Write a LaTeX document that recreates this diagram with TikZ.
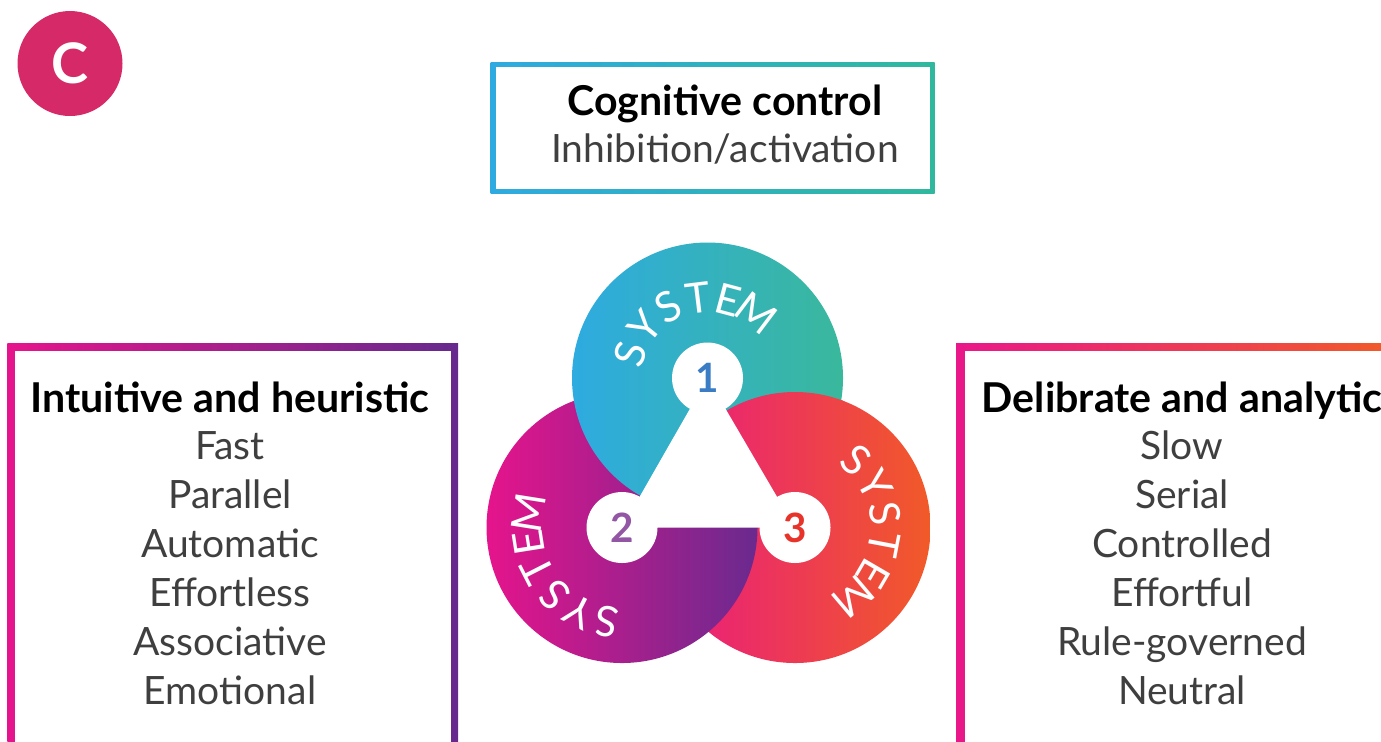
\documentclass[tikz,border=0pt]{standalone}
\usepackage{fontspec}
\setmainfont{Lato}
\usetikzlibrary{positioning}

\definecolor{badge}{HTML}{D62A68}
\definecolor{ctlblue}{HTML}{2FAAE0}
\definecolor{ctlteal}{HTML}{30B89E}
\definecolor{intmagenta}{HTML}{E6148C}
\definecolor{intpurple}{HTML}{66298D}
\definecolor{delmagenta}{HTML}{E9178A}
\definecolor{delorange}{HTML}{F15A29}
\definecolor{sysblue}{HTML}{2EABE0}
\definecolor{systeal}{HTML}{3AB89C}
\definecolor{sysmagenta}{HTML}{E5148C}
\definecolor{syspurple}{HTML}{6A2A8E}
\definecolor{syspink}{HTML}{E91A80}
\definecolor{sysorange}{HTML}{F15A28}
\definecolor{numblue}{HTML}{3A7DC4}
\definecolor{numpurple}{HTML}{9256A5}
\definecolor{numred}{HTML}{E8332B}
\definecolor{itemgray}{HTML}{3F3F3F}

\begin{document}
\begin{tikzpicture}
\tikzstyle{head} = [font=\fontsize{11.7}{13}\selectfont\bfseries, text=black, text height=0.29cm, text depth=0.08cm, inner sep=0pt]
\tikzstyle{item} = [font=\fontsize{11.1}{13}\selectfont, text=itemgray, text height=0.29cm, text depth=0.08cm, inner sep=0pt, node distance=0.49cm]
\tikzstyle{syslabel} = [font=\fontsize{12}{12}\selectfont, text=white, inner sep=0pt]
\tikzstyle{number} = [circle, fill=white, minimum size=0.71cm, inner sep=0pt, font=\fontsize{11.5}{12}\selectfont\bfseries]

\useasboundingbox (0,0) rectangle (13.81,-7.41);
\clip (0,0) rectangle (13.81,-7.41);

%badge
\fill [badge] (0.70,-0.635) circle (0.525);
\node (badgec) [font=\fontsize{15.9}{16}\selectfont\bfseries, text=white] at (0.70,-0.635) {C};

%frames
\shade [left color=ctlblue, right color=ctlteal] (4.905,-0.62) rectangle (9.345,-1.935);
\fill [white] (4.955,-0.67) rectangle (9.295,-1.885);
\shade [left color=intmagenta, right color=intpurple] (0.075,-3.43) rectangle (4.58,-7.6);
\fill [white] (0.15,-3.505) rectangle (4.505,-7.6);
\shade [left color=delmagenta, right color=delorange] (9.56,-3.43) rectangle (13.9,-7.6);
\fill [white] (9.645,-3.505) rectangle (13.9,-7.6);

%control
\node (ctl) [head] at (7.25,-1.045) {Cognitive control};
\node (inhib) [item, node distance=0.47cm, below of=ctl] {Inhibition/activation};

%left list
\node (intu) [head] at (2.30,-4.015) {Intuitive and heuristic};
\node (fast) [item, node distance=0.47cm, below of=intu] {Fast};
\node (parallel) [item, below of=fast] {Parallel};
\node (auto) [item, below of=parallel] {Automatic};
\node (effless) [item, below of=auto] {Effortless};
\node (assoc) [item, below of=effless] {Associative};
\node (emo) [item, below of=assoc] {Emotional};

%right list
\node (deli) [head] at (11.82,-4.015) {Delibrate and analytic};
\node (slow) [item, node distance=0.47cm, below of=deli] {Slow};
\node (serial) [item, below of=slow] {Serial};
\node (contr) [item, below of=serial] {Controlled};
\node (efful) [item, below of=contr] {Effortful};
\node (rule) [item, below of=efful] {Rule-governed};
\node (neutral) [item, below of=rule] {Neutral};

%discs
\coordinate (s1) at (7.075,-3.78);
\coordinate (s2) at (6.22,-5.275);
\coordinate (s3) at (7.95,-5.275);

\shade [left color=syspink, right color=sysorange] (s3) circle (1.355);
\shade [left color=sysmagenta, right color=syspurple] (s2) circle (1.355);
\shade [left color=sysblue, right color=systeal] (s1) circle (1.355);
% disc 3 back on top of disc 1 (a bit wider clip, no seam)
\begin{scope}
\clip (s1) circle (1.375);
\shade [left color=syspink, right color=sysorange] (s3) circle (1.355);
\end{scope}
\fill [white] (s1) -- (s2) -- (s3) -- cycle;

%SYSTEM round each disc
\foreach \ch [count=\i] in {S,Y,S,T,E,M} {
  \pgfmathsetmacro\aone{108+(3.5-\i)*22}
  \pgfmathsetmacro\atwo{216+(3.5-\i)*18}
  \pgfmathsetmacro\athree{-1+(3.5-\i)*19.5}
  \node (sysa\i) [syslabel, rotate=\aone-90] at ([shift={(\aone:0.81)}]s1) {\ch};
  \node (sysb\i) [syslabel, rotate=\atwo-90] at ([shift={(\atwo:0.95)}]s2) {\ch};
  \node (sysc\i) [syslabel, rotate=\athree-90] at ([shift={(\athree:0.91)}]s3) {\ch};
}

\node (one) [number, text=numblue] at (s1) {1};
\node (two) [number, text=numpurple] at (s2) {2};
\node (three) [number, text=numred] at (s3) {3};
\end{tikzpicture}
\end{document}
